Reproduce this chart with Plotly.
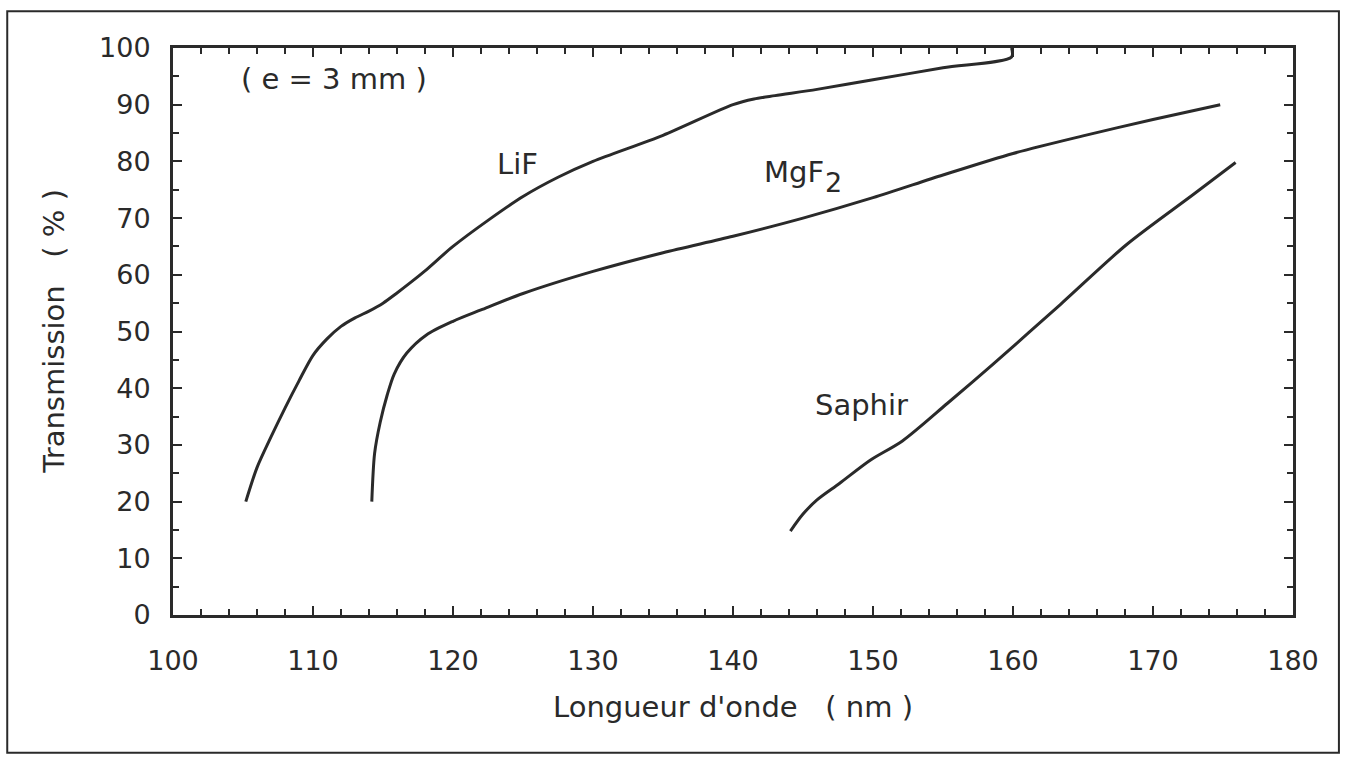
import plotly.graph_objects as go

# Data (wavelength in nm, transmission in %)
lif_x = [105.2, 106.0, 107.0, 108.0, 109.0, 110.0, 111.0, 112.0, 113.0, 114.0, 115.0,
         116.0, 117.0, 118.0, 120.0, 122.5, 125.0, 127.5, 130.0, 135.0, 140.0,
         141.5, 143.0, 146.0, 150.0, 155.0, 159.9, 159.9]
lif_y = [20.0, 26.0, 31.4, 36.5, 41.3, 45.8, 48.7, 50.9, 52.4, 53.6, 55.0,
         56.8, 58.7, 60.7, 65.0, 69.6, 73.8, 77.2, 80.0, 84.6, 90.0,
         91.0, 91.6, 92.7, 94.4, 96.5, 98.4, 100.0]

mgf2_x = [114.2, 114.4, 114.8, 115.3, 115.8, 116.7, 118.1, 120.0, 122.0, 125.0,
          130.0, 135.0, 140.0, 145.0, 150.0, 155.0, 160.0, 165.0, 170.0, 174.8]
mgf2_y = [20.0, 28.5, 34.0, 38.8, 42.5, 46.2, 49.4, 51.8, 53.8, 56.7,
          60.6, 63.9, 66.8, 70.0, 73.6, 77.6, 81.4, 84.5, 87.4, 90.0]

saphir_x = [144.1, 145.0, 146.0, 147.6, 149.8, 152.1, 155.3, 158.6, 163.4, 168.1, 172.9, 175.9]
saphir_y = [14.8, 17.8, 20.3, 23.2, 27.3, 30.7, 37.3, 44.3, 54.8, 65.3, 74.2, 79.8]

x_ticks = [100, 110, 120, 130, 140, 150, 160, 170, 180]
y_ticks = [0, 10, 20, 30, 40, 50, 60, 70, 80, 90, 100]

FONT = "DejaVu Sans"
INK = "#2a2a2a"
NB = "\u00a0"

fig = go.Figure()
for xs, ys in [(lif_x, lif_y), (mgf2_x, mgf2_y), (saphir_x, saphir_y)]:
    fig.add_trace(go.Scatter(x=xs, y=ys, mode="lines",
                             line=dict(color=INK, width=3, shape="spline", smoothing=0.8),
                             showlegend=False, hoverinfo="skip"))

axis_common = dict(showline=True, linecolor=INK, linewidth=3, mirror="ticks",
                   ticks="inside", tickcolor=INK, tickwidth=2, ticklen=9,
                   showgrid=False, zeroline=False,
                   tickfont=dict(family=FONT, size=27, color=INK))

fig.update_xaxes(range=[100, 180], tickvals=x_ticks, ticklabelstandoff=20,
                 minor=dict(dtick=2, ticks="inside", ticklen=6, tickwidth=2, tickcolor=INK),
                 **axis_common)
fig.update_yaxes(range=[0, 100], tickvals=y_ticks, ticklabelstandoff=14,
                 minor=dict(dtick=5, ticks="inside", ticklen=6, tickwidth=2, tickcolor=INK),
                 **axis_common)

txt = dict(family=FONT, size=29, color=INK)
fig.add_annotation(x=111.5, y=94.5, xref="x", yref="y",
                   text=f"({NB}e{NB}={NB}3{NB}mm{NB})",
                   showarrow=False, font=txt)
fig.add_annotation(x=124.6, y=79.6, xref="x", yref="y", text="LiF",
                   showarrow=False, font=txt)
fig.add_annotation(x=146.6, y=78.2, xref="x", yref="y", text="MgF",
                   showarrow=False, font=txt, xanchor="right", borderpad=0)
fig.add_annotation(x=146.5, y=76.3, xref="x", yref="y", text="2",
                   showarrow=False, font=dict(family=FONT, size=27, color=INK),
                   xanchor="left", borderpad=0)
fig.add_annotation(x=149.2, y=37.1, xref="x", yref="y", text="Saphir",
                   showarrow=False, font=txt)

fig.add_annotation(x=0.5, y=-0.162, xref="paper", yref="paper",
                   text=f"Longueur d'onde{NB*3}({NB}nm{NB})", showarrow=False, font=txt,
                   yanchor="middle")
fig.add_annotation(x=-0.107, y=0.5, xref="paper", yref="paper",
                   text=f"Transmission{NB*3}({NB}%{NB})", textangle=-90, showarrow=False,
                   font=txt, xanchor="center")

# outer frame
fig.add_shape(type="rect", xref="paper", yref="paper",
              x0=-0.148, x1=1.041, y0=-0.243, y1=1.065,
              line=dict(color=INK, width=2))

fig.update_layout(width=1345, height=760,
                  margin=dict(l=173, r=52, t=48, b=145),
                  paper_bgcolor="white", plot_bgcolor="white")

fig.write_html("out.html")
